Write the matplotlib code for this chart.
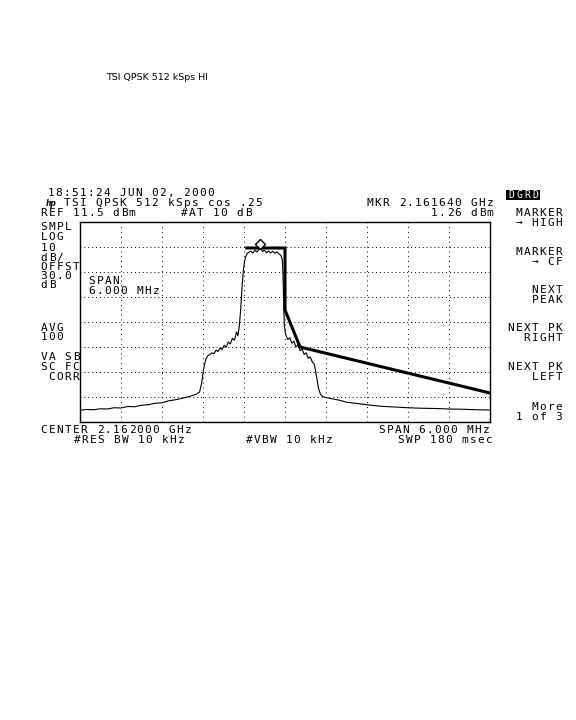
import matplotlib
matplotlib.use("Agg")
import matplotlib.pyplot as plt
import matplotlib.transforms as mtransforms
from matplotlib.patches import Rectangle

# frequency offset from center (MHz) and level (dBm) of the measured trace
trace_freq = [-3.00, -2.90, -2.80, -2.70, -2.60, -2.50, -2.40, -2.30, -2.20, -2.10,
              -2.00, -1.90, -1.80, -1.70, -1.60, -1.50, -1.40, -1.30, -1.25,
              -1.22, -1.19, -1.16, -1.13, -1.10,
              -1.07, -1.04, -1.01, -0.98, -0.95, -0.92, -0.89, -0.86, -0.83, -0.80,
              -0.77, -0.74, -0.71, -0.69, -0.67,
              -0.65, -0.63, -0.61, -0.59, -0.57, -0.55,
              -0.53, -0.50, -0.47, -0.44, -0.41, -0.38, -0.36, -0.33, -0.30, -0.27,
              -0.24, -0.21, -0.18, -0.15, -0.12, -0.09, -0.06,
              -0.04, -0.03, -0.02, -0.01, 0.01,
              0.04, 0.07, 0.10, 0.13, 0.16, 0.19, 0.22, 0.25, 0.28, 0.31, 0.34, 0.37,
              0.40, 0.43,
              0.46, 0.49, 0.52, 0.56,
              0.60, 0.70, 0.80, 0.90, 1.00, 1.20, 1.40, 1.60, 1.80, 2.00, 2.20, 2.40,
              2.60, 2.80, 3.00]
trace_level = [-63.8, -63.5, -63.6, -63.2, -63.3, -62.8, -62.9, -62.3, -62.4, -61.8,
               -61.6, -61.0, -60.8, -60.0, -59.6, -59.0, -58.3, -57.4, -56.5,
               -53.0, -47.0, -43.5, -42.0, -41.5,
               -40.8, -41.2, -39.8, -40.3, -38.9, -39.5, -37.8, -38.6, -36.5, -37.3,
               -35.0, -35.8, -32.5, -34.0, -30.5,
               -24.0, -15.0, -8.0, -4.0, -2.0, -1.0,
               -0.6, -0.2, -0.9, 0.2, -0.5, 0.6, 1.26, -0.3, 0.3, -0.8,
               -0.1, -0.9, -0.2, -1.0, -0.4, -1.2, -1.8,
               -3.5, -9.0, -20.0, -30.0, -33.5,
               -35.5, -34.8, -37.0, -36.2, -38.5, -37.6, -40.0, -39.2, -41.5, -40.8,
               -43.0, -42.5, -44.5, -45.5,
               -50.0, -55.0, -57.5, -58.5,
               -58.7, -59.3, -59.8, -60.6, -60.9, -61.6, -62.2, -62.5, -62.8, -63.0,
               -63.1, -63.3, -63.4, -63.6, -63.7]

# spectral mask limit line
mask_freq = [-0.56, 0.0, 0.0, 0.22, 3.0]
mask_level = [1.1, 1.1, -23.7, -38.5, -56.9]

marker_freq = -0.36
marker_level = 1.26

ref_level = 11.5
db_per_div = 10
span = 6.0

W, H = 576, 720
fig = plt.figure(figsize=(W / 100, H / 100), dpi=100)
fig.patch.set_facecolor("white")

# plot box in pixels: x 80..490, y 222..422
ax = fig.add_axes([80 / W, 1 - 422 / H, 410 / W, 200 / H])
ax.set_xlim(-span / 2, span / 2)
ax.set_ylim(ref_level - 8 * db_per_div, ref_level)
ax.set_xticks([])
ax.set_yticks([])
for s in ax.spines.values():
    s.set_linewidth(1.0)
    s.set_color("black")

# graticule
for i in range(1, 10):
    ax.axvline(-span / 2 + i * span / 10, color="black", lw=0.7, ls=(0, (1, 4)))
for j in range(1, 8):
    ax.axhline(ref_level - j * db_per_div, color="black", lw=0.7, ls=(0, (1, 3)))

ax.plot(trace_freq, trace_level, color="black", lw=0.8)
ax.plot(mask_freq, mask_level, color="black", lw=2.2, solid_joinstyle="miter")

mk_tr = mtransforms.offset_copy(ax.transData, fig=fig, y=4, units="dots")
ax.plot([marker_freq], [marker_level], marker="D", ms=5, mfc="white", mec="black",
        mew=1.0, transform=mk_tr, clip_on=False)

# instrument text: fixed 8 px character cell like the analyser's screen font
mono = "DejaVu Sans Mono"
fs = 8
cell = 8


def txt(x, y, s, ha="left", size=fs, color="black"):
    if ha == "right":
        x = x - cell * len(s)
    for i, ch in enumerate(s):
        if ch == " ":
            continue
        fig.text((x + cell * i + cell / 2) / W, 1 - y / H, ch, ha="center", va="center",
                 family=mono, fontsize=size, color=color)


# header
txt(47, 193, "18:51:24 JUN 02, 2000")
fig.text(51 / W, 1 - 203 / H, "hp", ha="center", va="center", family="DejaVu Sans",
         fontstyle="italic", fontweight="bold", fontsize=5.5)
txt(63, 203, "TSI QPSK 512 kSps cos .25")
txt(40, 213, "REF 11.5 dBm")
txt(180, 213, "#AT 10 dB")
txt(494, 203, "MKR 2.161640 GHz", ha="right")
txt(494, 213, "1.26 dBm", ha="right")
fig.patches.append(Rectangle((506 / W, 1 - 200 / H), 34 / W, 10 / H, transform=fig.transFigure,
                             facecolor="black", edgecolor="none"))
txt(507, 195, "DGRD", size=7, color="white")

# left annotations
left_lines = [("SMPL", 227), ("LOG", 237), ("10", 248), ("dB/", 258),
              ("OFFST", 267), ("30.0", 276), ("dB", 285),
              ("AVG", 328), ("100", 337),
              ("VA SB", 357), ("SC FC", 367), (" CORR", 377)]
for s, y in left_lines:
    txt(40, y, s)

txt(88, 281, "SPAN")
txt(88, 291, "6.000 MHz")

# softkeys
soft = [("MARKER", 213), ("\u2192 HIGH", 223), ("MARKER", 252), ("\u2192 CF", 262),
        ("NEXT", 290), ("PEAK", 300), ("NEXT PK", 328), ("RIGHT", 338),
        ("NEXT PK", 367), ("LEFT", 377), ("More", 407), ("1 of 3", 417)]
for s, y in soft:
    txt(563, y, s, ha="right")

# footer
txt(40, 430, "CENTER 2.162000 GHz")
txt(73, 440, "#RES BW 10 kHz")
txt(245, 440, "#VBW 10 kHz")
txt(490, 430, "SPAN 6.000 MHz", ha="right")
txt(493, 440, "SWP 180 msec", ha="right")

fig.text(106 / W, 1 - 77 / H, "TSI QPSK 512 kSps HI", ha="left", va="center",
         family="DejaVu Sans", fontsize=6.8)

fig.savefig("out.png", dpi=100)
